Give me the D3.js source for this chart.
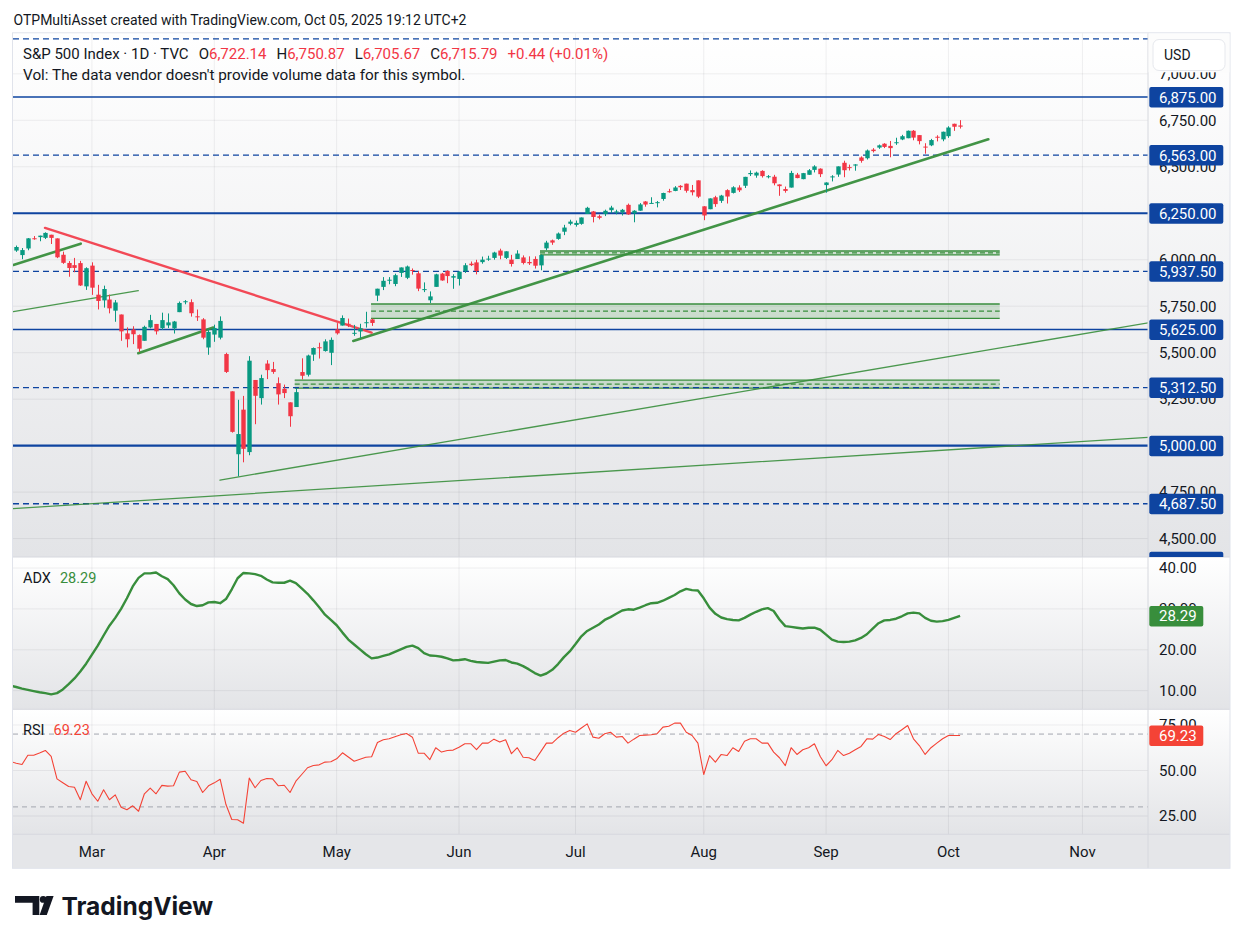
<!DOCTYPE html>
<html>
<head>
<meta charset="utf-8">
<script src="https://cdn.jsdelivr.net/npm/d3@7"></script>
<style>
  body { margin: 0; background: #fff; }
  svg { display: block; font-family: Roboto, "Liberation Sans", sans-serif; }
</style>
</head>
<body>
<svg id="chart" width="1243" height="944"></svg>
<script>
// ---------------- data (S&P 500, daily, Feb 10 -> Oct 03 2025) ----------------
var holidays = ["2025-02-17", "2025-04-18", "2025-05-26", "2025-06-19", "2025-07-04", "2025-09-01"];

var opens = [6046.8,6049.3,6025.1,6060.6,6115.5,6121.6,6117.8,6134.5,6114.8,6026.7,5982.7,5970.9,5981.9,5856.7,
  5968.3,5812.0,5781.4,5785.9,5726.0,5705.4,5603.7,5624.8,5594.5,5563.9,5635.6,5654.5,5632.4,5646.9,5630.7,5718.1,5775.9,5771.7,5695.6,5679.1,5527.9,
  5597.5,5580.8,5492.7,5292.1,4953.8,5193.6,4965.3,5353.2,5255.6,5441.4,5411.9,5335.8,5305.5,5232.9,5207.7,5395.9,5381.4,5489.7,5529.2,5508.9,5499.4,
  5625.2,5645.9,5655.3,5605.9,5614.0,5663.9,5679.0,5807.0,5854.0,5886.9,5869.6,5929.1,5902.9,5944.7,5927.1,5841.3,5781.9,5854.1,5925.5,5939.9,5903.7,
  5896.7,5938.6,5978.9,5985.7,5987.1,6004.6,6009.9,6049.4,6009.9,6000.6,6004.0,6012.4,5987.9,6004.2,5969.7,6061.2,6104.3,6112.1,6150.7,6193.4,
  6187.3,6193.0,6246.5,6259.8,6233.9,6245.6,6266.6,6255.7,6255.4,6295.3,6249.7,6263.9,6313.4,6304.7,6306.6,6326.9,6368.6,6370.0,6397.7,6409.3,6374.6,6427.0,
  6287.3,6271.7,6336.0,6316.8,6374.3,6359.6,6388.6,6397.9,6460.2,6452.9,6477.8,6445.0,6446.6,6405.0,6380.2,6388.2,6457.7,6433.5,6456.9,6483.3,6489.9,
  6401.5,6445.8,6458.2,6521.6,6498.1,6506.5,6550.1,6545.9,6592.3,6603.2,6624.1,6612.5,6631.4,6647.0,6653.6,6693.8,6670.4,6608.6,6615.4,6661.6,6647.4,
  6664.6,6731.3,6722.14];
var highs = [6073.4,6076.3,6063.0,6116.9,6127.5,6129.6,6147.4,6134.5,6114.8,6043.7,5992.7,6009.8,5993.7,5959.4,
  5986.1,5865.1,5860.6,5812.1,5783.0,5705.4,5636.3,5642.2,5597.8,5645.3,5703.5,5654.5,5715.3,5711.1,5670.8,5775.1,5783.0,5786.9,5732.3,5685.9,5627.6,
  5650.6,5695.3,5499.5,5292.1,5246.6,5267.5,5481.3,5353.2,5381.5,5459.5,5450.4,5367.2,5328.3,5232.9,5309.6,5469.7,5489.4,5528.1,5553.7,5571.9,5581.8,
  5658.9,5700.7,5683.4,5649.6,5655.5,5720.1,5683.4,5844.2,5906.6,5906.6,5924.9,5958.6,5968.6,5953.1,5938.4,5878.1,5829.5,5924.6,5929.0,5943.1,5922.1,
  5937.4,5981.4,5990.5,5999.7,6016.9,6021.3,6043.0,6059.4,6045.4,6026.2,6050.8,6023.3,6018.2,6018.2,6028.8,6101.8,6108.5,6146.5,6187.7,6215.1,
  6210.8,6227.6,6284.7,6262.3,6242.7,6269.4,6290.2,6269.0,6273.3,6302.0,6266.4,6304.7,6315.6,6336.1,6316.1,6360.6,6381.3,6395.8,6401.1,6409.3,6402.1,6427.0,
  6288.1,6330.0,6343.9,6349.0,6379.2,6395.2,6400.5,6446.1,6480.3,6473.9,6481.3,6455.4,6456.6,6405.3,6393.6,6478.2,6466.9,6466.9,6487.6,6508.2,6491.8,
  6416.5,6454.7,6502.1,6532.7,6511.7,6513.8,6555.9,6592.8,6600.2,6619.6,6627.0,6638.9,6656.2,6671.8,6695.0,6697.5,6670.4,6626.6,6650.1,6669.6,6689.0,
  6718.1,6731.9,6750.87];
var lows = [6044.0,6042.3,6003.0,6051.0,6107.6,6099.5,6111.2,6084.6,6008.6,5977.8,5908.5,5932.7,5858.8,5837.7,
  5810.9,5732.6,5742.4,5711.6,5666.3,5564.0,5528.4,5546.1,5504.7,5563.9,5631.1,5597.8,5622.2,5632.3,5603.1,5718.1,5760.4,5694.0,5670.9,5572.4,5488.7,
  5558.5,5571.5,5390.8,5069.9,4835.0,4910.4,4948.4,5115.3,5220.8,5358.0,5386.4,5220.8,5255.6,5101.6,5207.7,5356.1,5371.9,5455.9,5468.6,5505.7,5433.2,
  5597.4,5645.9,5637.7,5590.8,5578.6,5635.1,5644.1,5777.3,5836.7,5868.0,5857.7,5907.4,5895.7,5919.8,5830.9,5825.8,5767.4,5854.1,5886.8,5873.8,5843.7,
  5861.4,5929.0,5966.1,5921.2,5978.6,5994.2,6000.3,6002.3,6003.9,5963.2,6004.0,5974.8,5971.9,5952.6,5943.2,6051.0,6080.1,6107.3,6132.4,6185.2,
  6178.0,6188.3,6246.5,6201.0,6217.0,6234.9,6251.3,6244.0,6237.8,6241.6,6201.5,6263.2,6285.3,6303.8,6281.7,6317.5,6360.6,6368.5,6375.2,6360.9,6346.1,6331.6,
  6212.7,6271.7,6284.5,6305.8,6302.4,6356.4,6364.3,6385.8,6450.2,6441.1,6441.9,6437.6,6400.2,6343.9,6360.6,6388.2,6438.1,6432.8,6456.9,6469.7,6444.6,
  6360.6,6421.2,6446.0,6443.9,6480.1,6478.9,6522.0,6539.0,6577.0,6596.4,6600.6,6551.1,6617.8,6643.2,6653.6,6642.6,6620.6,6570.4,6610.9,6636.6,6637.4,
  6655.5,6693.2,6705.67];
var closes = [6066.4,6068.5,6052.0,6115.1,6114.6,6129.6,6144.2,6117.5,6013.1,5983.3,5955.3,5956.1,5861.6,5954.5,
  5849.7,5778.2,5842.6,5738.5,5770.2,5614.6,5572.1,5599.3,5521.5,5638.9,5675.1,5614.7,5675.3,5662.9,5667.6,5767.6,5776.7,5712.2,5693.3,5580.9,5611.9,
  5633.1,5671.0,5396.5,5074.1,5062.3,4982.8,5456.9,5268.1,5363.4,5406.0,5396.6,5275.7,5282.7,5158.2,5287.8,5375.9,5484.8,5525.2,5528.8,5560.8,5569.1,
  5604.1,5686.7,5650.4,5606.9,5631.3,5663.9,5659.9,5844.2,5886.6,5892.6,5916.9,5958.4,5963.6,5940.5,5844.6,5842.0,5802.8,5921.5,5888.6,5912.2,5911.7,
  5935.9,5970.4,5970.8,5939.3,6000.4,6005.9,6038.8,6022.2,6045.3,5977.0,6033.1,5982.7,5980.9,5967.8,6025.2,6092.2,6092.2,6141.0,6173.1,6205.0,
  6198.0,6227.4,6279.4,6230.0,6225.5,6263.3,6280.5,6259.8,6268.6,6243.8,6263.7,6297.4,6296.8,6305.6,6309.6,6358.9,6363.4,6388.6,6389.8,6370.9,6362.9,6339.4,
  6238.0,6329.9,6299.2,6345.1,6340.0,6389.5,6373.5,6445.8,6466.6,6468.5,6449.8,6449.2,6411.4,6395.8,6370.2,6466.9,6439.3,6465.9,6481.4,6501.9,6460.3,
  6415.5,6448.3,6502.1,6481.5,6495.2,6512.6,6532.0,6587.5,6584.3,6615.3,6606.8,6600.4,6632.0,6664.4,6693.8,6656.9,6638.0,6604.7,6643.7,6661.2,6688.5,
  6711.2,6715.35,6715.79];

var adx = [11.2,10.9,10.5,10.2,9.9,9.6,9.4,9.1,9.4,10.3,11.6,13.0,14.7,16.6,18.8,21.0,23.5,25.9,27.8,30.0,
  32.6,35.5,37.6,38.7,38.7,38.9,38.0,37.3,35.8,33.8,32.3,31.2,30.7,30.9,31.6,31.7,31.4,32.4,34.8,37.5,
  38.8,38.7,38.5,38.1,37.2,36.5,36.4,36.4,36.9,36.3,35.0,33.7,32.1,30.4,28.6,27.3,26.0,24.2,22.5,21.3,
  20.1,18.9,17.9,18.1,18.5,18.9,19.5,20.1,20.7,21.0,20.4,19.2,18.6,18.5,18.3,17.9,17.4,17.5,17.7,17.3,
  17.0,16.9,16.8,17.1,17.4,17.5,16.9,16.6,16.0,15.2,14.3,13.7,14.2,15.1,16.5,18.2,19.6,21.4,23.3,24.6,
  25.4,26.2,27.3,28.0,28.8,29.6,29.9,29.8,30.3,30.9,31.4,31.5,32.0,32.7,33.4,34.3,34.9,34.6,34.5,32.6,
  30.3,28.8,27.9,27.5,27.3,27.2,27.8,28.6,29.3,29.9,30.2,29.5,27.4,25.8,25.6,25.4,25.2,25.4,25.4,24.9,
  23.7,22.5,22.0,21.9,22.0,22.3,22.9,23.8,25.2,26.5,27.2,27.3,27.6,28.2,28.9,29.1,28.9,27.8,27.1,26.9,
  27.0,27.3,27.8,28.29];

var rsi = [54.9,54.0,53.3,58.4,58.4,59.6,61.0,57.7,45.4,43.3,41.2,40.8,33.9,44.1,37.2,33.1,39.4,33.9,36.6,29.8,
  28.4,30.6,27.6,37.2,40.3,37.2,41.8,41.4,41.6,49.1,49.6,44.9,44.0,37.9,41.6,43.2,45.2,31.3,23.1,22.9,
  21.0,45.8,40.5,44.5,45.6,45.4,41.6,41.9,37.9,44.1,47.8,51.5,52.7,53.1,54.6,54.8,56.4,59.7,57.4,55.1,
  56.2,57.3,57.5,65.4,66.9,67.4,68.5,69.6,70.3,68.3,59.5,59.5,56.0,62.5,60.1,61.0,61.2,62.8,64.7,64.7,
  61.4,65.0,65.0,67.2,65.6,66.9,59.2,62.5,57.3,57.0,55.5,60.2,65.0,65.0,68.0,70.5,72.0,71.0,73.3,75.6,
  68.3,67.7,70.2,71.0,68.3,68.7,65.0,67.2,69.2,69.4,69.6,70.2,73.8,74.3,76.0,76.0,71.0,69.2,65.0,47.8,
  58.2,54.6,58.8,58.2,62.5,60.4,66.1,67.4,67.4,65.0,65.0,60.1,57.0,52.7,62.5,58.8,61.4,62.5,64.7,57.7,
  52.6,55.9,61.0,58.2,59.5,61.4,63.2,67.4,67.2,69.8,68.7,67.0,70.2,72.4,74.7,67.4,63.7,58.8,62.5,65.0,
  67.4,69.2,69.2,69.23];

// horizontal levels drawn on the chart
var levelsThick = [6250, 5000, 4375];
var levelsThin = [6875, 5625];
var levelsDashed = [7187.5, 6563, 5937.5, 5312.5, 4687.5];
var levelLabels = [6875, 6563, 6250, 5937.5, 5625, 5312.5, 5000, 4687.5, 4375];

// trend lines [bar index, price] -> [bar index, price]
var trendThick = [[0.5, 5972, 12.07, 6086.5], [21.95, 5497, 34.82, 5635], [58.85, 5563, 167.84, 6648]];
var trendThin = [[0.5, 5721, 21.95, 5834], [35.97, 4815, 196, 5664], [0.4, 4661.5, 196, 5046]];
var trendRed = [[5.94, 6171, 62.0, 5608]];

// zones [from bar, to bar, top, bottom, middle]
var zones = [[90.9, 169.8, 6047, 6026, 6036.5], [61.9, 169.8, 5762, 5685, 5723.5], [48.8, 169.8, 5352, 5309, 5330.5]];

var priceTicks = [4500, 4750, 5000, 5250, 5500, 5750, 6000, 6250, 6500, 6750, 7000];
var adxTicks = [10, 20, 30, 40];
var rsiTicks = [25, 50, 75];
var rsiBands = [30, 70];

// ---------------- layout ----------------
var plotL = 13, plotR = 1148, axisR = 1230;
var mainTop = 33.3, mainBot = 557, adxBot = 709.3, rsiBot = 834.3, xBot = 868.3;
var green = "#089981", red = "#f23645", txt = "#131722", blue = "#0e44a0", tgreen = "#388e3c";

var svg = d3.select("#chart");
var fmt2 = d3.format(",.2f");
var dfmt = d3.timeFormat("%Y-%m-%d");

// trading days
var days = d3.timeDay.range(new Date(2025, 1, 10), new Date(2025, 11, 1))
  .filter(function(d) { return d.getDay() % 6 !== 0 && holidays.indexOf(dfmt(d)) < 0; });

var x = d3.scaleLinear().domain([0.45, 195.25]).range([plotL, plotR]);
var yMain = d3.scaleLinear().domain([4401, 7218]).range([mainBot, mainTop]);
var yAdx = d3.scaleLinear().domain([5.44, 42.7]).range([adxBot, mainBot]);
var yRsi = d3.scaleLinear().domain([14.95, 83.6]).range([rsiBot, adxBot]);

var monthIdx = [];
for (var i = 1; i < days.length; i++) {
  if (days[i].getMonth() !== days[i - 1].getMonth() && x(i) < plotR) monthIdx.push(i);
}

// gradients
var defs = svg.append("defs");
var grad = defs.append("linearGradient").attr("id", "pane").attr("x1", 0).attr("y1", 0).attr("x2", 0).attr("y2", 1);
grad.append("stop").attr("offset", "0%").attr("stop-color", "#ffffff");
grad.append("stop").attr("offset", "100%").attr("stop-color", "#e3e4e7");

function clip(id, x0, y0, x1, y1) {
  defs.append("clipPath").attr("id", id).append("rect")
    .attr("x", x0).attr("y", y0).attr("width", x1 - x0).attr("height", y1 - y0);
}
clip("cMain", plotL, mainTop, plotR, mainBot);
clip("cAdx", plotL, mainBot, plotR, adxBot);
clip("cRsi", plotL, adxBot, plotR, rsiBot);
clip("aMain", plotR, mainTop, axisR, mainBot);
clip("aAdx", plotR, mainBot, axisR, adxBot);
clip("aRsi", plotR, adxBot, axisR, rsiBot);

// header
svg.append("text").attr("x", 13.5).attr("y", 25).style("font-size", "14px").attr("fill", txt)
  .text("OTPMultiAsset created with TradingView.com, Oct 05, 2025 19:12 UTC+2");

// pane backgrounds
[[mainTop, mainBot], [mainBot, adxBot], [adxBot, rsiBot]].forEach(function(p) {
  svg.append("rect").attr("x", plotL).attr("y", p[0]).attr("width", axisR - plotL).attr("height", p[1] - p[0])
    .attr("fill", "url(#pane)");
});
svg.append("rect").attr("x", plotL).attr("y", rsiBot).attr("width", axisR - plotL).attr("height", xBot - rsiBot)
  .attr("fill", "#e5e6e9");

var grid = "rgba(42,46,57,0.07)";

// vertical grid
svg.append("g").selectAll("line").data(monthIdx).enter().append("line")
  .attr("x1", function(d) { return x(d); }).attr("x2", function(d) { return x(d); })
  .attr("y1", mainTop).attr("y2", rsiBot).attr("stroke", grid);

// ---------------- main pane ----------------
var main = svg.append("g").attr("clip-path", "url(#cMain)");
main.selectAll(".hg").data(priceTicks).enter().append("line")
  .attr("x1", plotL).attr("x2", plotR)
  .attr("y1", function(d) { return yMain(d); }).attr("y2", function(d) { return yMain(d); })
  .attr("stroke", grid);

// zones
zones.forEach(function(z) {
  var zg = main.append("g");
  zg.append("rect").attr("x", x(z[0])).attr("width", x(z[1]) - x(z[0]))
    .attr("y", yMain(z[2])).attr("height", yMain(z[3]) - yMain(z[2]))
    .attr("fill", "rgba(56,142,60,0.2)");
  [z[2], z[3]].forEach(function(v) {
    zg.append("line").attr("x1", x(z[0])).attr("x2", x(z[1])).attr("y1", yMain(v)).attr("y2", yMain(v))
      .attr("stroke", tgreen).attr("stroke-width", 1.3);
  });
  zg.append("line").attr("x1", x(z[0])).attr("x2", x(z[1])).attr("y1", yMain(z[4])).attr("y2", yMain(z[4]))
    .attr("stroke", tgreen).attr("stroke-width", 1.2).attr("stroke-dasharray", "5 3");
});

// levels
function level(vals, w, dash) {
  main.append("g").selectAll("line").data(vals).enter().append("line")
    .attr("x1", plotL).attr("x2", plotR)
    .attr("y1", function(d) { return yMain(d); }).attr("y2", function(d) { return yMain(d); })
    .attr("stroke", blue).attr("stroke-width", w).attr("stroke-dasharray", dash);
}
level(levelsThick, 2.2, null);
level(levelsThin, 1.4, null);
level(levelsDashed, 1.3, "6 4");

// trend lines
function trend(list, color, w, op) {
  main.append("g").selectAll("line").data(list).enter().append("line")
    .attr("x1", function(d) { return x(d[0]); }).attr("y1", function(d) { return yMain(d[1]); })
    .attr("x2", function(d) { return x(d[2]); }).attr("y2", function(d) { return yMain(d[3]); })
    .attr("stroke", color).attr("stroke-width", w).attr("stroke-opacity", op).attr("stroke-linecap", "round");
}
trend(trendThin, tgreen, 1.3, 0.9);
trend(trendThick, tgreen, 2.6, 0.95);
trend(trendRed, red, 2.4, 0.9);

// candles
var bars = d3.range(closes.length);
var candle = main.append("g").selectAll("g").data(bars).enter().append("g");
candle.append("line")
  .attr("x1", function(i) { return Math.round(x(i)) + 0.5; }).attr("x2", function(i) { return Math.round(x(i)) + 0.5; })
  .attr("y1", function(i) { return yMain(highs[i]); }).attr("y2", function(i) { return yMain(lows[i]); })
  .attr("stroke", function(i) { return closes[i] >= opens[i] ? green : red; });
candle.append("rect")
  .attr("x", function(i) { return Math.round(x(i)) + 0.5 - 2.2; }).attr("width", 4.4)
  .attr("y", function(i) { return yMain(Math.max(opens[i], closes[i])); })
  .attr("height", function(i) { return Math.max(1, Math.abs(yMain(opens[i]) - yMain(closes[i]))); })
  .attr("fill", function(i) { return closes[i] >= opens[i] ? green : red; });

// legend
var last = closes.length - 1;
var chg = closes[last] - closes[last - 1];
var lg = svg.append("text").attr("x", 23).attr("y", 58.5).style("font-size", "15px");
lg.append("tspan").attr("fill", txt).text("S&P 500 Index · 1D · TVC");
[["O", opens[last]], ["H", highs[last]], ["L", lows[last]], ["C", closes[last]]].forEach(function(p) {
  lg.append("tspan").attr("dx", 10).attr("fill", txt).text(p[0]);
  lg.append("tspan").attr("fill", red).text(fmt2(p[1]));
});
lg.append("tspan").attr("dx", 10).attr("fill", red)
  .text("+" + fmt2(chg) + " (+" + d3.format(".2f")(chg / closes[last - 1] * 100) + "%)");
svg.append("text").attr("x", 23).attr("y", 79.5).style("font-size", "15.3px").attr("fill", txt)
  .text("Vol: The data vendor doesn't provide volume data for this symbol.");

// ---------------- ADX pane ----------------
var adxG = svg.append("g").attr("clip-path", "url(#cAdx)");
adxG.selectAll("line").data(adxTicks).enter().append("line")
  .attr("x1", plotL).attr("x2", plotR)
  .attr("y1", function(d) { return yAdx(d); }).attr("y2", function(d) { return yAdx(d); }).attr("stroke", grid);
adxG.append("path").datum(adx)
  .attr("d", d3.line().x(function(d, i) { return x(i); }).y(function(d) { return yAdx(d); }))
  .attr("fill", "none").attr("stroke", tgreen).attr("stroke-width", 2.4).attr("stroke-linejoin", "round");
var al = svg.append("text").attr("x", 23).attr("y", 582.5).style("font-size", "14.5px");
al.append("tspan").attr("fill", txt).text("ADX");
al.append("tspan").attr("dx", 9).attr("fill", tgreen).text(d3.format(".2f")(adx[last]));

// ---------------- RSI pane ----------------
var rsiG = svg.append("g").attr("clip-path", "url(#cRsi)");
rsiG.selectAll(".g").data(rsiTicks).enter().append("line")
  .attr("x1", plotL).attr("x2", plotR)
  .attr("y1", function(d) { return yRsi(d); }).attr("y2", function(d) { return yRsi(d); }).attr("stroke", grid);
rsiG.selectAll(".b").data(rsiBands).enter().append("line")
  .attr("x1", plotL).attr("x2", plotR)
  .attr("y1", function(d) { return yRsi(d); }).attr("y2", function(d) { return yRsi(d); })
  .attr("stroke", "#a3a6af").attr("stroke-dasharray", "5 4");
rsiG.append("path").datum(rsi)
  .attr("d", d3.line().x(function(d, i) { return x(i); }).y(function(d) { return yRsi(d); }))
  .attr("fill", "none").attr("stroke", "#f44336").attr("stroke-width", 1.1).attr("stroke-linejoin", "round");
var rl = svg.append("text").attr("x", 23).attr("y", 735).style("font-size", "14.5px");
rl.append("tspan").attr("fill", txt).text("RSI");
rl.append("tspan").attr("dx", 9).attr("fill", "#f44336").text(d3.format(".2f")(rsi[last]));

// ---------------- separators and frame ----------------
[mainBot, adxBot, rsiBot].forEach(function(yv) {
  svg.append("line").attr("x1", plotL).attr("x2", axisR).attr("y1", yv).attr("y2", yv).attr("stroke", "#d6d8de");
});
svg.append("line").attr("x1", plotR).attr("x2", plotR).attr("y1", mainTop).attr("y2", xBot).attr("stroke", "#d6d8de");
svg.append("rect").attr("x", 12.5).attr("y", mainTop - 0.5).attr("width", axisR - 12.5).attr("height", xBot - mainTop + 0.5)
  .attr("fill", "none").attr("stroke", "#e0e3eb");

// ---------------- axes ----------------
function rightAxis(scale, ticks, clipId) {
  var g = svg.append("g").attr("clip-path", "url(#" + clipId + ")")
    .append("g").attr("transform", "translate(" + plotR + ",0)")
    .call(d3.axisRight(scale).tickValues(ticks).tickFormat(fmt2).tickSize(0).tickPadding(11));
  g.select(".domain").remove();
  g.selectAll("text").attr("fill", txt).style("font-size", "15px").style("font-family", "Roboto, sans-serif");
  return g;
}
rightAxis(yMain, priceTicks, "aMain");
rightAxis(yAdx, adxTicks, "aAdx");
rightAxis(yRsi, rsiTicks, "aRsi");

function valueLabel(clipId, yv, w, fill, str, bottom) {
  var g = svg.append("g").attr("clip-path", "url(#" + clipId + ")");
  g.append("rect").attr("x", plotR + 1.3).attr("y", yv - 10).attr("width", w).attr("height", 20.5)
    .attr("rx", 2).attr("fill", fill);
  if (yv < bottom) {
    g.append("text").attr("x", plotR + 11).attr("y", yv + 5.5).attr("fill", "#fff")
      .style("font-size", "15px").text(str);
  }
}
levelLabels.forEach(function(v) { valueLabel("aMain", yMain(v), 74, blue, fmt2(v), mainBot); });
valueLabel("aAdx", yAdx(adx[last]), 54, tgreen, d3.format(".2f")(adx[last]), adxBot);
valueLabel("aRsi", yRsi(rsi[last]), 54, "#f44336", d3.format(".2f")(rsi[last]), rsiBot);

// USD button (with its own backdrop, which hides the top of the 7,000 label)
svg.append("rect").attr("x", plotR + 0.5).attr("y", mainTop + 0.5).attr("width", axisR - plotR - 1).attr("height", 38.5)
  .attr("fill", "#fcfcfc");
svg.append("rect").attr("x", 1153).attr("y", 39.5).attr("width", 72).attr("height", 31).attr("rx", 6)
  .attr("fill", "#fff").attr("stroke", "#e6e8ed");
svg.append("text").attr("x", 1164).attr("y", 59.5).style("font-size", "14px").attr("fill", txt).text("USD");

// time axis
svg.append("g").selectAll("text").data(monthIdx).enter().append("text")
  .attr("x", function(i) { return x(i); }).attr("y", 857)
  .attr("text-anchor", "middle").style("font-size", "15px").attr("fill", txt)
  .text(function(i) { return d3.timeFormat("%b")(days[i]); });

// ---------------- logo ----------------
var logo = svg.append("g").attr("transform", "translate(15,896)").attr("fill", "#131722");
logo.append("path").attr("d", "M0 0 H24.3 V19 H17.6 V6.8 H0 Z");
logo.append("circle").attr("cx", 28.2).attr("cy", 3.4).attr("r", 3.4);
logo.append("path").attr("d", "M24.6 19 H31.8 L38.6 0 H31.4 Z");
svg.append("text").attr("x", 61.5).attr("y", 914.5).style("font-family", "Inter, Roboto, sans-serif")
  .style("font-size", "24.5px").style("font-weight", 700).attr("fill", "#131722").text("TradingView");
</script>
</body>
</html>
